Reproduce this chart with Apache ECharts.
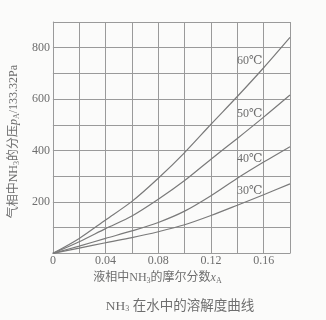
<!DOCTYPE html>
<html><head><meta charset="utf-8">
<script src="https://cdn.jsdelivr.net/npm/echarts@6/dist/echarts.min.js"></script>
<style>html,body{margin:0;padding:0;background:#fbfbfa;}#c{width:326px;height:320px;}</style>
</head><body><div id="c"></div>
<script>
const xValues = [0, 0.02, 0.04, 0.06, 0.08, 0.10, 0.12, 0.14, 0.16, 0.18];
const p60 = [0, 58, 130, 202, 292, 392, 502, 610, 722, 840];
const p50 = [0, 45, 96, 145, 210, 283, 366, 447, 530, 616];
const p40 = [0, 28, 58, 87, 120, 164, 224, 292, 355, 415];
const p30 = [0, 20, 41, 61, 84, 111, 147, 187, 228, 270];
const seriesNames = ['60℃', '50℃', '40℃', '30℃'];
const labelX = [0.1495, 0.1495, 0.1495, 0.1495];
const labelY = [748, 541, 366, 244];
const xTickLabels = ['0', '0.04', '0.08', '0.12', '0.16'];
const yTickLabels = ['200', '400', '600', '800'];

const serif = '"Liberation Serif","DejaVu Serif","Noto Sans CJK SC",serif';
const grey = '#6e6e6e';
const gridGrey = '#9a9a9a';
const curveColor = '#7a7a7a';

const allData = [p60, p50, p40, p30];
const chart = echarts.init(document.getElementById('c'));
chart.setOption({
  animation: false,
  backgroundColor: '#fbfbfa',
  grid: {left: 52.7, right: 36, top: 22, bottom: 66.7, containLabel: false},
  title: {
    text: 'NH{sub|3} 在水中的溶解度曲线',
    left: 175, top: 294, textAlign: 'center',
    textStyle: {
      fontFamily: serif, fontSize: 13.5, fontWeight: 'normal', color: grey,
      rich: {sub: {fontSize: 8, fontFamily: serif, color: grey, verticalAlign: 'bottom', padding: [6, 0, 0, 0]}}
    }
  },
  xAxis: {
    type: 'value', min: 0, max: 0.18, interval: 0.02,
    name: '液相中NH{sub|3}的摩尔分数{i|x}{sub|A}',
    nameLocation: 'middle', nameGap: 15,
    nameTextStyle: {
      fontFamily: serif, fontSize: 12, color: grey, padding: [0, 28, 0, 0],
      rich: {
        sub: {fontSize: 8, fontFamily: serif, color: grey, verticalAlign: 'bottom', padding: [6, 0, 0, 0]},
        i: {fontSize: 12, fontFamily: serif, fontStyle: 'italic', color: grey}
      }
    },
    axisLine: {show: true, lineStyle: {color: gridGrey, width: 1}},
    axisTick: {show: false},
    splitLine: {show: true, lineStyle: {color: gridGrey, width: 1}},
    axisLabel: {
      fontFamily: serif, fontSize: 12, color: grey, margin: 2,
      formatter: function (v) {
        const s = xTickLabels.find(t => Math.abs(parseFloat(t) - v) < 1e-9);
        return s === undefined ? '' : s;
      }
    }
  },
  yAxis: {
    type: 'value', min: 0, max: 900, interval: 100,
    name: '气相中NH{sub|3}的分压{i|p}{sub|A}/133.32Pa',
    nameLocation: 'middle', nameGap: 16,
    nameTextStyle: {
      fontFamily: serif, fontSize: 12, color: grey, padding: [0, 8, 0, 0],
      rich: {
        sub: {fontSize: 8, fontFamily: serif, color: grey, verticalAlign: 'bottom', padding: [6, 0, 0, 0]},
        i: {fontSize: 12, fontFamily: serif, fontStyle: 'italic', color: grey}
      }
    },
    axisLine: {show: true, lineStyle: {color: gridGrey, width: 1}},
    axisTick: {show: false},
    splitLine: {show: true, lineStyle: {color: gridGrey, width: 1}},
    axisLabel: {
      fontFamily: serif, fontSize: 12, color: grey, margin: 3,
      formatter: function (v) {
        const s = yTickLabels.find(t => parseFloat(t) === v);
        return s === undefined ? '' : s;
      }
    }
  },
  series: allData.map((arr, k) => ({
    type: 'line',
    name: seriesNames[k],
    smooth: 0.3,
    symbol: 'none',
    lineStyle: {color: curveColor, width: 1.2},
    data: xValues.map((x, i) => [x, arr[i]]),
    markPoint: {
      symbol: 'circle', symbolSize: 0, silent: true,
      label: {show: true, position: 'inside', formatter: seriesNames[k],
        fontFamily: serif, fontSize: 12, color: grey},
      data: [{coord: [labelX[k], labelY[k]]}]
    }
  }))
});
</script>
</body></html>
